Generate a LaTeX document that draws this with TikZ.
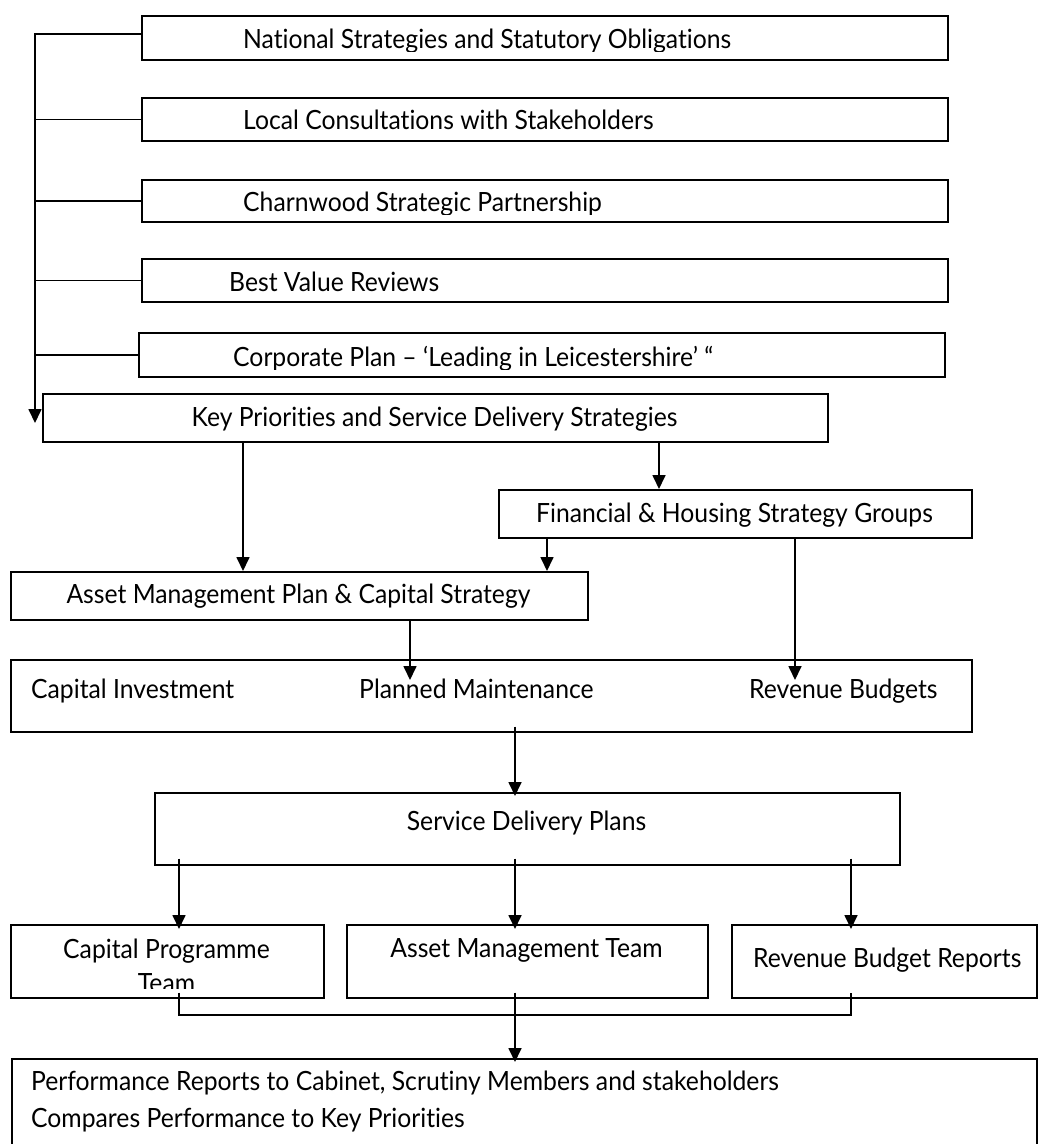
\documentclass[tikz,border=0pt]{standalone}
\usepackage{fontspec}
\usepackage{graphicx}
\setmainfont[Ligatures=NoCommon]{Lato}
\usetikzlibrary{arrows.meta,calc}
\newcommand\fsz{\fontsize{26.5pt}{34pt}\selectfont}
\newlength\reflen
\newcommand\tx[1]{\scalebox{\hsc}[1]{#1}}
\begin{document}
\settowidth\reflen{\fsz National Strategies and Statutory Obligations}%
\pgfmathsetmacro\hsc{488/\reflen}%
\begin{tikzpicture}[x=1pt,y=-1pt,
  box/.style={draw, line width=1.7pt, rectangle, inner sep=0pt, anchor=north west},
  lbl/.style={inner sep=0pt, font=\fsz},
  arr/.style={line width=1.7pt, -{Triangle[width=13pt,length=14pt]}},
  ln/.style={line width=1.7pt}]
\useasboundingbox (0,0) rectangle (1038,1144);
\clip (0,0) rectangle (1038,1144);

% boxes
\node[box,minimum width=806pt,minimum height=44pt] (B1) at (141,15) {};
\node[box,minimum width=806pt,minimum height=43pt] (B2) at (141,97) {};
\node[box,minimum width=806pt,minimum height=42pt] (B3) at (141,179) {};
\node[box,minimum width=806pt,minimum height=43pt] (B4) at (141,258) {};
\node[box,minimum width=806pt,minimum height=44pt] (B5) at (138,332) {};
\node[box,minimum width=785pt,minimum height=48pt] (K) at (42,393) {};
\node[box,minimum width=473pt,minimum height=48pt] (F) at (498,489) {};
\node[box,minimum width=577pt,minimum height=48pt] (A) at (10,571) {};
\node[box,minimum width=961pt,minimum height=72pt] (P) at (10,659) {};
\node[box,minimum width=745pt,minimum height=72pt] (S) at (154,792) {};
\node[box,minimum width=313pt,minimum height=73pt] (C) at (10,924) {};
\node[box,minimum width=361pt,minimum height=73pt] (M) at (346,924) {};
\node[box,minimum width=305pt,minimum height=73pt] (R) at (731,924) {};
\node[box,minimum width=1025pt,minimum height=150pt] (O) at (11,1058) {};

% texts
\begin{scope}
\clip (B1.north west) rectangle ([yshift=9pt]B1.south east);
\node[lbl,anchor=base west] (t1) at (243,48) {\tx{National Strategies and Statutory Obligations}};
\end{scope}
\begin{scope}
\clip (B2.north west) rectangle ([yshift=9pt]B2.south east);
\node[lbl,anchor=base west] (t2) at (243,129) {\tx{Local Consultations with Stakeholders}};
\end{scope}
\begin{scope}
\clip (B3.north west) rectangle ([yshift=8pt]B3.south east);
\node[lbl,anchor=base west] (t3) at (243,211) {\tx{Charnwood Strategic Partnership}};
\end{scope}
\begin{scope}
\clip (B4.north west) rectangle ([yshift=9pt]B4.south east);
\node[lbl,anchor=base west] (t4) at (229,291) {\tx{Best Value Reviews}};
\end{scope}
\begin{scope}
\clip (B5.north west) rectangle ([yshift=8.5pt]B5.south east);
\node[lbl,anchor=base west] (t5) at (233,366) {\tx{Corporate Plan – ‘Leading in Leicestershire’ “}};
\end{scope}
\node[lbl,anchor=base] (tK) at (434.5,426) {\tx{Key Priorities and Service Delivery Strategies}};
\node[lbl,anchor=base] (tF) at (734.5,522) {\tx{Financial \& Housing Strategy Groups}};
\node[lbl,anchor=base] (tA) at (298.5,603) {\tx{Asset Management Plan \& Capital Strategy}};
\node[lbl,anchor=base west] (tP1) at (31,698) {\tx{Capital Investment}};
\node[lbl,anchor=base west] (tP2) at (359,698) {\tx{Planned Maintenance}};
\node[lbl,anchor=base west] (tP3) at (749,698) {\tx{Revenue Budgets}};
\node[lbl,anchor=base] (tS) at (526.5,830) {\tx{Service Delivery Plans}};
\begin{scope}
\clip (C.north west) rectangle ([yshift=10pt]C.south east);
\node[lbl,anchor=base] (tC1) at (166.5,958) {\tx{Capital Programme}};
\node[lbl,anchor=base] (tC2) at (166.5,992) {\tx{Team}};
\end{scope}
\node[lbl,anchor=base] (tM) at (526.5,957) {\tx{Asset Management Team}};
\node[lbl,anchor=base west] (tR) at (753,967) {\tx{Revenue Budget Reports}};
\node[lbl,anchor=base west] (tO1) at (31,1090) {\tx{Performance Reports to Cabinet, Scrutiny Members and stakeholders}};
\node[lbl,anchor=base west] (tO2) at (31,1127) {\tx{Compares Performance to Key Priorities}};

% connectors
\coordinate (rail) at (35,423);
\draw[arr] ([yshift=4pt]B1.west) -| (rail);
\foreach \b in {B2,B3,B4,B5} \draw[ln] (\b.west) -- (\b.west -| rail);

\coordinate (xKA) at (243,0);
\coordinate (xKF) at (659,0);
\coordinate (xFA) at (547,0);
\coordinate (xFP) at (795,0);
\coordinate (xAP) at (410,0);
\coordinate (xPS) at (515,0);
\coordinate (xSC) at (179,0);
\coordinate (xSM) at (515,0);
\coordinate (xSR) at (851,0);

\draw[arr] (K.south -| xKA) -- (A.north -| xKA);
\draw[arr] (K.south -| xKF) -- (F.north -| xKF);
\draw[arr] (F.south -| xFA) -- (A.north -| xFA);
\draw[arr] (F.south -| xFP) -- ($(P.north -| xFP)+(0,21)$);
\draw[arr] (A.south -| xAP) -- ($(P.north -| xAP)+(0,21)$);
\draw[arr] ($(P.south -| xPS)+(0,-6)$) -- ($(S.north -| xPS)+(0,4)$);
\draw[arr] ($(S.south -| xSC)+(0,-7)$) -- ($(C.north -| xSC)+(0,5)$);
\draw[arr] ($(S.south -| xSM)+(0,-7)$) -- ($(M.north -| xSM)+(0,5)$);
\draw[arr] ($(S.south -| xSR)+(0,-7)$) -- ($(R.north -| xSR)+(0,5)$);
\draw[ln] ($(C.south -| xSC)+(0,-6)$) |- ($(O.north -| xSM)+(0,-43)$) -| ($(R.south -| xSR)+(0,-6)$);
\draw[arr] ($(M.south -| xSM)+(0,-6)$) -- ($(O.north -| xSM)+(0,4)$);
\end{tikzpicture}
\end{document}
